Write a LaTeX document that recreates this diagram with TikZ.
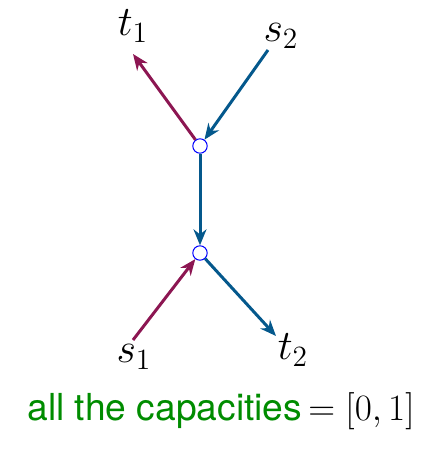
\documentclass[tikz,border=0pt]{standalone}
\usepackage{fix-cm}
\usepackage{fontspec}
\usepackage{tikz}
\usetikzlibrary{arrows.meta, positioning}
\newfontfamily\capsans{TeX Gyre Heros}
\definecolor{flowred}{RGB}{140,22,82}
\definecolor{flowblue}{RGB}{4,88,140}
\definecolor{capgreen}{RGB}{0,140,0}

\begin{document}
\begin{tikzpicture}[x=0.5pt, y=-0.5pt, >={Stealth[length=8pt, width=6.5pt]},
    vertex/.style={circle, draw=blue, fill=white, line width=0.5pt, inner sep=0pt, minimum size=7.2pt},
    redflow/.style={->, line width=1.5pt, draw=flowred},
    blueflow/.style={->, line width=1.5pt, draw=flowblue},
    lbl/.style={font=\fontsize{21}{25}\selectfont}]
    \useasboundingbox (0,0) rectangle (421,465);

    % the two inner vertices
    \node[vertex] (up) at (200,146) {};
    \node[vertex] (down) at (200,253) {};

    % free ends of the arrows
    \coordinate (t1end) at (133,54);
    \coordinate (s2end) at (268,50);
    \coordinate (s1end) at (133,340);
    \coordinate (t2end) at (276,336);

    % terminals
    \node[lbl] (t1) at (133,26) {$t_1$};
    \node[lbl] (s2) at (281,36) {$s_2$};
    \node[lbl] (s1) at (134,357) {$s_1$};
    \node[lbl] (t2) at (293,350) {$t_2$};

    \draw[redflow] (up) -- (t1end);
    \draw[blueflow] (s2end) -- (up);
    \draw[blueflow] (up) -- (down);
    \draw[redflow] (s1end) -- (down);
    \draw[blueflow] (down) -- (t2end);

    \node[font=\fontsize{18.6}{22}\selectfont] (cap) at (221,411)
        {\textcolor{capgreen}{\capsans all the capacities}\,$=[0,1]$};
\end{tikzpicture}
\end{document}
